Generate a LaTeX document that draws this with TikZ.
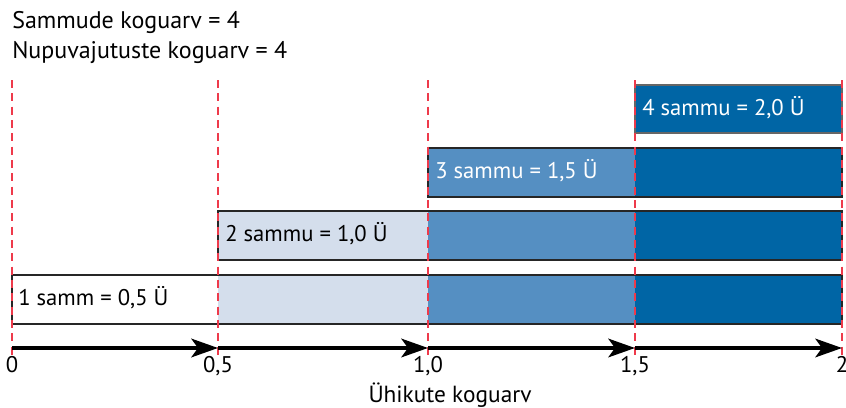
\documentclass[tikz,border=0pt]{standalone}
\usepackage{fontspec}
\setmainfont{PT Sans}
\usetikzlibrary{arrows.meta}
\definecolor{lightb}{HTML}{D4DEEC}
\definecolor{midb}{HTML}{558FC2}
\definecolor{darkb}{HTML}{0065A5}
\definecolor{guide}{HTML}{EE3A4B}
\begin{document}
\begin{tikzpicture}[x=0.75pt,y=-0.75pt,
  rowframe/.style={draw=black!85, line width=1.1pt},
  rowlabel/.style={anchor=base west, inner sep=0pt, font=\fontsize{17}{20}\selectfont},
  headtext/.style={anchor=base west, inner sep=0pt, font=\fontsize{18}{21}\selectfont},
  ticklabel/.style={anchor=base, inner sep=0pt, font=\fontsize{17}{20}\selectfont},
  axislabel/.style={anchor=base, inner sep=0pt, font=\fontsize{17.5}{21}\selectfont},
  guideline/.style={draw=guide, line width=1pt, dash pattern=on 6pt off 4pt},
  axisarrow/.style={line width=2.4pt, -{Stealth[length=20pt,width=14pt,inset=5pt]}, shorten >=0pt}]
\useasboundingbox (0,0) rectangle (846,407);
% header
\node[headtext] (h1) at (12,28) {Sammude koguarv = 4};
\node[headtext] (h2) at (12,58) {Nupuvajutuste koguarv = 4};
% row 1
\fill[white] (12,275) rectangle (218,324);
\fill[lightb] (218,275) rectangle (428,324);
\fill[midb] (428,275) rectangle (635,324);
\fill[darkb] (635,275) rectangle (842,324);
\draw[rowframe] (12,275) rectangle (842,324);
% row 2
\fill[lightb] (218,211) rectangle (428,260);
\fill[midb] (428,211) rectangle (635,260);
\fill[darkb] (635,211) rectangle (842,260);
\draw[rowframe] (218,211) rectangle (842,260);
% row 3
\fill[midb] (428,148) rectangle (635,197);
\fill[darkb] (635,148) rectangle (842,197);
\draw[rowframe] (428,148) rectangle (842,197);
% row 4
\fill[darkb] (635,85) rectangle (842,133);
\draw[rowframe, draw=black!60] (635,85) rectangle (842,133);
% guides
\foreach \x in {12,218,428,635,842}
  \draw[guideline] (\x,80) -- (\x,357);
% labels
\node[rowlabel] (l1) at (18,305) {1 samm = 0,5 Ü};
\node[rowlabel] (l2) at (225,241) {2 sammu = 1,0 Ü};
\node[rowlabel, text=white] (l3) at (435,178) {3 sammu = 1,5 Ü};
\node[rowlabel, text=white] (l4) at (642,115) {4 sammu = 2,0 Ü};
% axis
\coordinate (t0) at (12,348);
\coordinate (t1) at (218,348);
\coordinate (t2) at (428,348);
\coordinate (t3) at (635,348);
\coordinate (t4) at (842,348);
\draw[axisarrow] (t0) -- (t1);
\draw[axisarrow] (t1) -- (t2);
\draw[axisarrow] (t2) -- (t3);
\draw[axisarrow] (t3) -- (t4);
\node[ticklabel] (n0) at (12,372) {0};
\node[ticklabel] (n1) at (218,372) {0,5};
\node[ticklabel] (n2) at (428,372) {1,0};
\node[ticklabel] (n3) at (635,372) {1,5};
\node[ticklabel] (n4) at (842,372) {2};
\node[axislabel] (ax) at (450,402) {Ühikute koguarv};
\end{tikzpicture}
\end{document}
